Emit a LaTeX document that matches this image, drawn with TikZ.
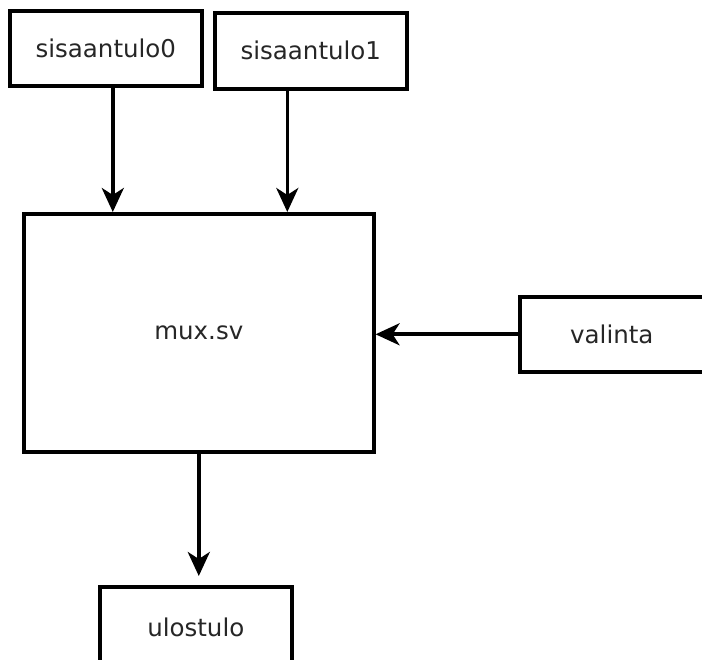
\documentclass[tikz,border=0pt]{standalone}
\usepackage{fontspec}
\setmainfont{DejaVu Sans}
\usetikzlibrary{arrows.meta,calc}
\begin{document}
\begin{tikzpicture}[x=1pt,y=-1pt,
  block/.style={draw=black,line width=3.6pt,fill=white,inner sep=0pt,
    text=black!85,font=\fontsize{24.5}{29}\selectfont,anchor=north west},
  arr/.style={line width=3.6pt,-{Stealth[length=24pt,width=22pt,inset=7pt]}}]
\useasboundingbox (0,0) rectangle (702,660);
% input and output blocks
\node[block,minimum width=192pt,minimum height=75pt] (s0) at (8,9) {sisaantulo0};
\node[block,minimum width=192pt,minimum height=76pt] (s1) at (213,11) {sisaantulo1};
\node[block,minimum width=350pt,minimum height=238pt] (mux) at (22,212) {mux.sv};
\node[block,minimum width=184pt,minimum height=75pt] (val) at (518,295) {valinta};
\node[block,minimum width=192pt,minimum height=82pt] (out) at (98,585) {ulostulo};
% connectors
\draw[arr] ([xshift=7pt]s0.south) -- ([xshift=7pt]s0.south |- mux.north);
\draw[arr] ([xshift=-23.5pt]s1.south) -- ([xshift=-23.5pt]s1.south |- mux.north);
\draw[arr] (val.west) -- (val.west -| mux.east);
\draw[arr,shorten >=9pt] (mux.south) -- (mux.south |- out.north);
\end{tikzpicture}
\end{document}
